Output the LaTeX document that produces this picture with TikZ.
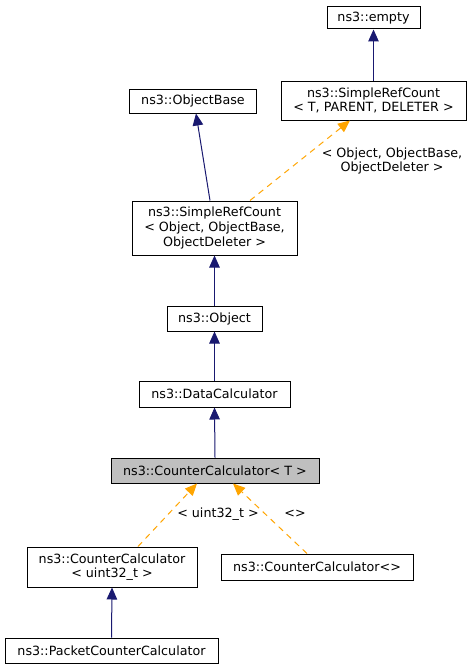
\documentclass[tikz,border=0pt]{standalone}
\usepackage{fontspec}
\setmainfont{DejaVu Sans}
\usetikzlibrary{arrows.meta}
\definecolor{navy}{HTML}{191970}
\definecolor{orng}{HTML}{FFA500}
\definecolor{gfill}{HTML}{BFBFBF}
\tikzset{
  cls/.style={draw=black, line width=1pt, fill=white, inner sep=0pt, align=center,
    font=\fontsize{12.7}{14.6}\selectfont},
  inh/.style={draw=navy, line width=1pt, -{Triangle[length=12pt,width=10.5pt]}},
  tmpl/.style={draw=orng, line width=1pt, dashed, dash pattern=on 6pt off 5pt, -{Triangle[length=12pt,width=10.5pt]}},
  lbl/.style={inner sep=0pt, align=center, font=\fontsize{12.7}{14.6}\selectfont},
}
\begin{document}
\begin{tikzpicture}[x=1pt, y=-1pt]
\useasboundingbox[fill=white] (0,0) rectangle (473,669);
\node[cls, minimum width=93pt, minimum height=22pt] (empty) at (373.5,18) {ns3::empty};
\node[cls, minimum width=185pt, minimum height=39pt] (srcT) at (373.5,100.5) {ns3::SimpleRefCount\\< T, PARENT, DELETER >};
\node[cls, minimum width=127pt, minimum height=24pt] (objbase) at (193,101) {ns3::ObjectBase};
\node[cls, minimum width=165pt, minimum height=54pt] (srcobj) at (214.5,228) {ns3::SimpleRefCount\\< Object, ObjectBase,\\ObjectDeleter >};
\node[cls, minimum width=95pt, minimum height=25pt] (object) at (214.5,318.5) {ns3::Object};
\node[cls, minimum width=151pt, minimum height=26pt] (dc) at (214.5,394) {ns3::DataCalculator};
\node[cls, fill=gfill, minimum width=208pt, minimum height=25pt] (cc) at (215,470.5) {ns3::CounterCalculator< T >};
\node[cls, minimum width=170pt, minimum height=40pt] (ccu) at (112,567) {ns3::CounterCalculator\\< uint32\_t >};
\node[cls, minimum width=192pt, minimum height=26pt] (cce) at (317,567) {ns3::CounterCalculator<>};
\node[cls, minimum width=213pt, minimum height=25pt] (pcc) at (111.5,650.5) {ns3::PacketCounterCalculator};

\node[lbl] (l1) at (392,161) {< Object, ObjectBase,\\ObjectDeleter >};
\node[lbl] (l2) at (218,514) {< uint32\_t >};
\node[lbl] (l3) at (295,514) {<>};

\draw[inh] (srcT.north) -- (empty.south);
\draw[inh] ([xshift=-4.5pt]srcobj.north) -- ([xshift=3pt]objbase.south);
\draw[tmpl] ([xshift=35.5pt]srcobj.north) -- ([xshift=-23.5pt]srcT.south);
\draw[inh] (object.north) -- (srcobj.south);
\draw[inh] (dc.north) -- (object.south);
\draw[inh] (cc.north) -- (dc.south);
\draw[tmpl] ([xshift=26pt]ccu.north) -- ([xshift=-18pt]cc.south);
\draw[tmpl] ([xshift=-10pt]cce.north) -- ([xshift=18pt]cc.south);
\draw[inh] (pcc.north) -- (ccu.south);
\end{tikzpicture}
\end{document}
